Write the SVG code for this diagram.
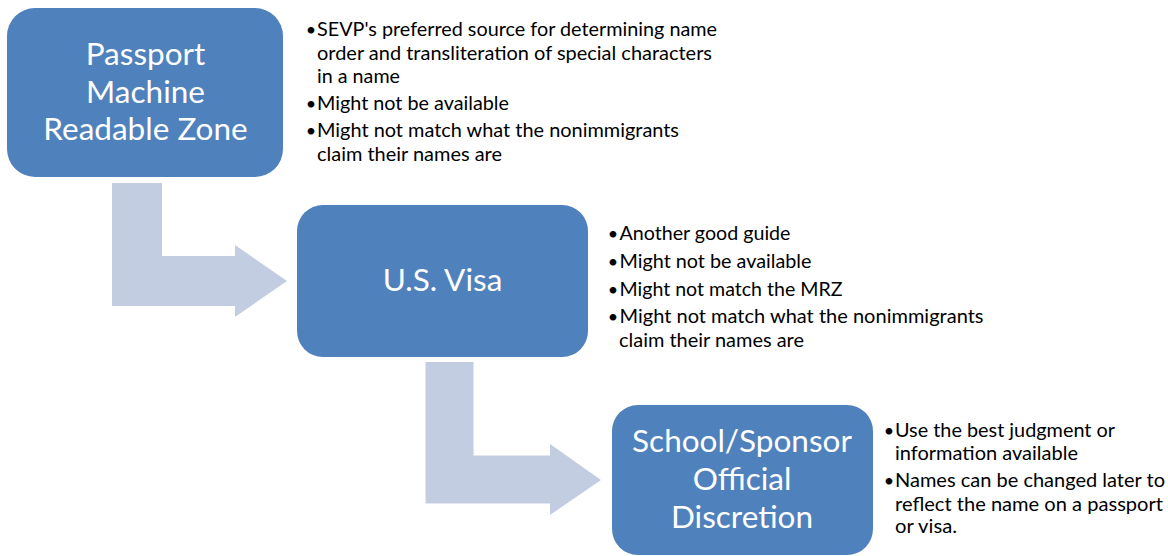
<svg xmlns="http://www.w3.org/2000/svg" width="1168" height="556" viewBox="0 0 1168 556">
<style>
.box{fill:#4F81BD;}
.arrow{fill:#C3CDE2;}
.title{font-family:Lato,"Open Sans","Liberation Sans",sans-serif;font-size:31.5px;fill:#FFFFFF;text-anchor:middle;}
.bul{font-family:Lato,"Open Sans","Liberation Sans",sans-serif;font-size:19px;fill:#000000;}
.dot{font-family:Lato,"Open Sans","Liberation Sans",sans-serif;font-size:18px;fill:#000000;text-anchor:middle;}
</style>
<rect width="1168" height="556" fill="#FFFFFF"/>
<g id="connectors">
<path class="arrow" d="M112,183 H162 V256 H235 V245 L287,281 L235,317 V306 H112 Z"/>
<path class="arrow" d="M425.5,362 H473.5 V455.5 H550 V444 L601,480 L550,515 V503.5 H425.5 Z"/>
</g>
<g id="node-passport">
<rect class="box" x="7" y="8" width="276" height="169" rx="28" ry="28"/>
<text class="title" x="145.5" y="65">Passport</text>
<text class="title" x="145.5" y="103">Machine</text>
<text class="title" x="145.5" y="140">Readable Zone</text>
</g>
<g id="notes-passport">
<text class="dot" x="311" y="36">•</text>
<text class="bul" x="317" y="36" textLength="400" lengthAdjust="spacingAndGlyphs">SEVP's preferred source for determining name</text>
<text class="bul" x="317" y="60" textLength="395" lengthAdjust="spacingAndGlyphs">order and transliteration of special characters</text>
<text class="bul" x="317" y="83" textLength="83" lengthAdjust="spacingAndGlyphs">in a name</text>
<text class="dot" x="311" y="110">•</text>
<text class="bul" x="317" y="110" textLength="192" lengthAdjust="spacingAndGlyphs">Might not be available</text>
<text class="dot" x="311" y="137">•</text>
<text class="bul" x="317" y="137" textLength="362" lengthAdjust="spacingAndGlyphs">Might not match what the nonimmigrants</text>
<text class="bul" x="317" y="160.5" textLength="185" lengthAdjust="spacingAndGlyphs">claim their names are</text>
</g>
<g id="node-visa">
<rect class="box" x="297" y="205" width="291" height="152" rx="26" ry="26"/>
<text class="title" x="442.5" y="291">U.S. Visa</text>
</g>
<g id="notes-visa">
<text class="dot" x="613" y="240">•</text>
<text class="bul" x="619.5" y="240" textLength="171" lengthAdjust="spacingAndGlyphs">Another good guide</text>
<text class="dot" x="613" y="268">•</text>
<text class="bul" x="619.5" y="268" textLength="192" lengthAdjust="spacingAndGlyphs">Might not be available</text>
<text class="dot" x="613" y="296">•</text>
<text class="bul" x="619.5" y="296" textLength="223" lengthAdjust="spacingAndGlyphs">Might not match the MRZ</text>
<text class="dot" x="613" y="323">•</text>
<text class="bul" x="619.5" y="323" textLength="364" lengthAdjust="spacingAndGlyphs">Might not match what the nonimmigrants</text>
<text class="bul" x="619" y="346.5" textLength="185" lengthAdjust="spacingAndGlyphs">claim their names are</text>
</g>
<g id="node-school">
<rect class="box" x="612" y="405" width="261" height="150" rx="26" ry="26"/>
<text class="title" x="742" y="452">School/Sponsor</text>
<text class="title" x="742" y="490">Official</text>
<text class="title" x="742" y="528">Discretion</text>
</g>
<g id="notes-school">
<text class="dot" x="889" y="437">•</text>
<text class="bul" x="895" y="437" textLength="220" lengthAdjust="spacingAndGlyphs">Use the best judgment or</text>
<text class="bul" x="895" y="460" textLength="183" lengthAdjust="spacingAndGlyphs">information available</text>
<text class="dot" x="889" y="487">•</text>
<text class="bul" x="895" y="487" textLength="270" lengthAdjust="spacingAndGlyphs">Names can be changed later to</text>
<text class="bul" x="895" y="511" textLength="268" lengthAdjust="spacingAndGlyphs">reflect the name on a passport</text>
<text class="bul" x="895" y="533" textLength="62" lengthAdjust="spacingAndGlyphs">or visa.</text>
</g>
</svg>
